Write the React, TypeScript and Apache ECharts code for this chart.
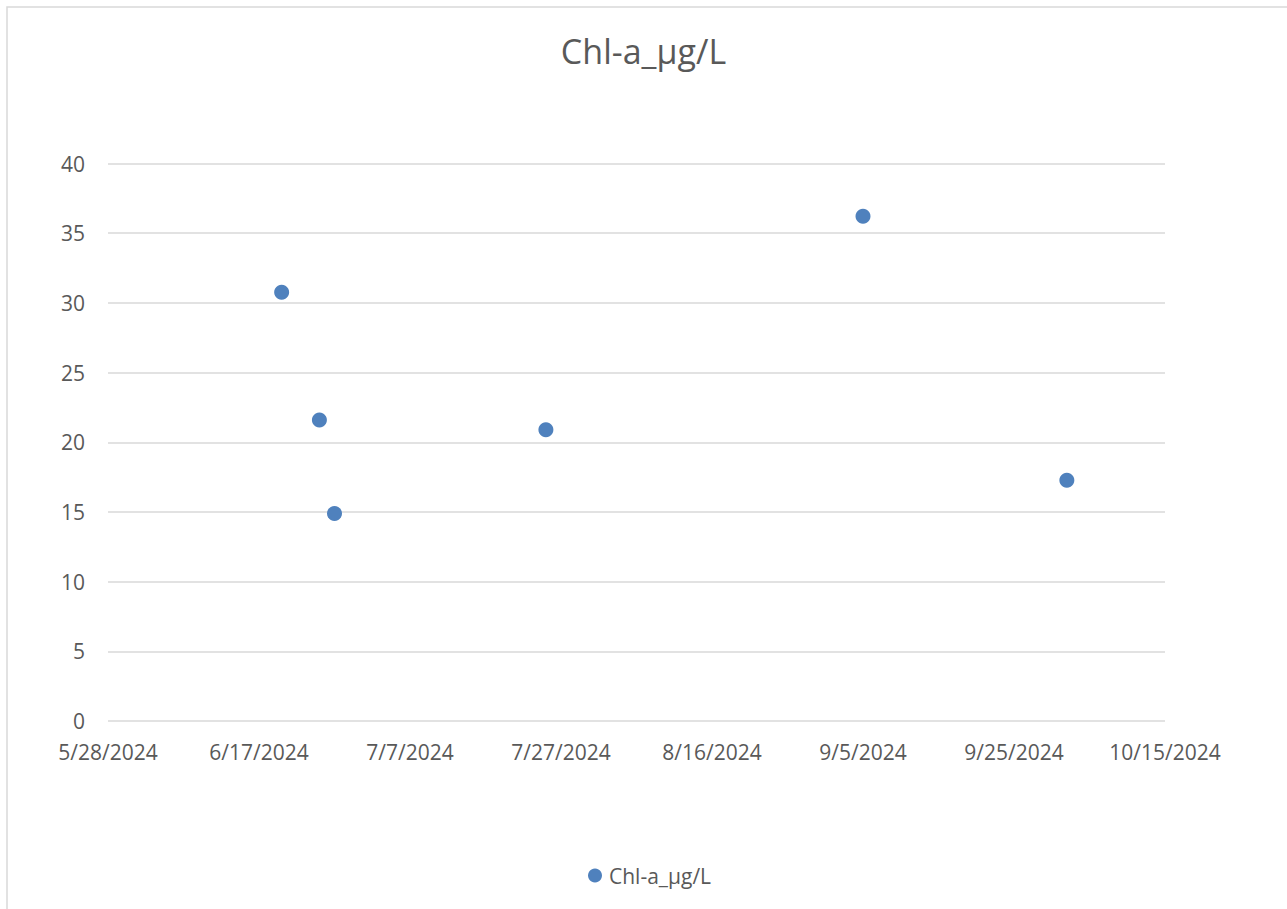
import React, { useEffect, useRef } from "react";
import * as echarts from "echarts";

// Sample dates and chlorophyll-a concentrations (µg/L)
const sampleDates = ["2024-06-20", "2024-06-25", "2024-06-27", "2024-07-25", "2024-09-05", "2024-10-02"];
const chlValues = [30.77, 21.59, 14.89, 20.89, 36.22, 17.28];

// Axis ranges: x in spreadsheet serial days (5/28/2024 = 45440), y in µg/L
const xMinDate = "2024-05-28";
const xMaxDate = "2024-10-15";
const xStepDays = 20;
const yMin = 0;
const yMax = 40;
const yStep = 5;

const seriesName = "Chl-a_µg/L";

const EPOCH = Date.UTC(1899, 11, 30);
const DAY = 86400000;

function toSerial(iso: string): number {
  const [y, m, d] = iso.split("-").map(Number);
  return Math.round((Date.UTC(y, m - 1, d) - EPOCH) / DAY);
}

function serialLabel(serial: number): string {
  const dt = new Date(EPOCH + serial * DAY);
  return `${dt.getUTCMonth() + 1}/${dt.getUTCDate()}/${dt.getUTCFullYear()}`;
}

const FONT = "'Open Sans', 'Liberation Sans', sans-serif";
const TEXT = "#595959";
const GRID = "#d9d9d9";
const DOT = "#4F81BD";

export default function App() {
  const ref = useRef<HTMLDivElement>(null);

  useEffect(() => {
    if (!ref.current) return;
    const chart = echarts.init(ref.current, undefined, { renderer: "svg" });
    const points = sampleDates.map((d, i) => [toSerial(d), chlValues[i]]);

    chart.setOption({
      animation: false,
      backgroundColor: "#ffffff",
      textStyle: { fontFamily: FONT },
      title: {
        text: seriesName,
        left: "center",
        top: 29,
        textStyle: { fontFamily: FONT, fontSize: 34, fontWeight: "normal", color: TEXT },
      },
      legend: {
        bottom: 23,
        left: 588,
        padding: 0,
        itemWidth: 14,
        itemHeight: 14,
        itemGap: 10,
        icon: "circle",
        textStyle: { fontFamily: FONT, fontSize: 21, color: TEXT, padding: [0, 0, 0, 2] },
        data: [seriesName],
      },
      grid: { left: 108, right: 122, top: 163.5, bottom: 188, containLabel: false },
      xAxis: {
        type: "value",
        min: toSerial(xMinDate),
        max: toSerial(xMaxDate),
        interval: xStepDays,
        axisLine: { show: false },
        axisTick: { show: false },
        splitLine: { show: false },
        axisLabel: {
          color: TEXT,
          fontFamily: FONT,
          fontSize: 21,
          margin: 20,
          showMinLabel: true,
          showMaxLabel: true,
          formatter: (v: number) => serialLabel(v),
        },
      },
      yAxis: {
        type: "value",
        min: yMin,
        max: yMax,
        interval: yStep,
        axisLine: { show: false },
        axisTick: { show: false },
        splitLine: { show: true, lineStyle: { color: GRID, width: 1.5 } },
        axisLabel: { color: TEXT, fontFamily: FONT, fontSize: 21, margin: 23 },
      },
      graphic: [
        {
          type: "rect",
          shape: { x: 7, y: 7, width: 1400, height: 1000 },
          style: { fill: "none", stroke: GRID, lineWidth: 1.5 },
          silent: true,
          z: 100,
        },
      ],
      series: [
        {
          name: seriesName,
          type: "scatter",
          symbol: "circle",
          symbolSize: 15,
          itemStyle: { color: DOT, opacity: 1 },
          data: points,
        },
      ],
    });

    return () => chart.dispose();
  }, []);

  return (
    <div style={{ position: "fixed", left: 0, top: 0, width: 1287, height: 909, overflow: "hidden", background: "#fff" }}>
      <div ref={ref} style={{ width: 1287, height: 909 }} />
    </div>
  );
}
